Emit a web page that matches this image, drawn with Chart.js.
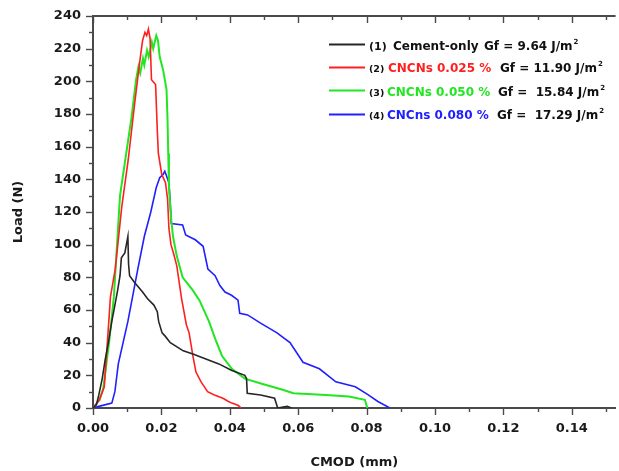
<!DOCTYPE html>
<html>
<head>
<meta charset="utf-8">
<script src="https://cdn.jsdelivr.net/npm/chart.js@4.4.0/dist/chart.umd.min.js"></script>
<style>
  html, body { margin: 0; padding: 0; background: #fff; }
  canvas { display: block; }
</style>
</head>
<body>
<canvas id="grafica" width="619" height="471"></canvas>
<script>
// curvas carga - CMOD: [CMOD (mm), carga (N)]
const cemento = [[0,0],[0.0010,2],[0.0017,8],[0.0027,18],[0.0036,30],[0.0045,40],[0.0055,53],[0.0064,63],[0.0072,72],[0.0079,81],[0.0083,92],[0.0093,95],[0.0102,105],[0.0104,88],[0.0107,81],[0.0121,77],[0.0145,71],[0.0159,67],[0.0178,63],[0.0188,59],[0.0192,53],[0.0202,46],[0.0211,44],[0.0226,40],[0.0264,35],[0.0292,33],[0.0330,30],[0.0368,27],[0.0406,23],[0.0444,20],[0.0449,18],[0.0451,9],[0.0490,8],[0.0531,6],[0.0540,0],[0.0568,1],[0.0580,0]];
const cncn025 = [[0,0],[0.0019,5],[0.0033,13],[0.0042,40],[0.0051,68],[0.0065,85],[0.0084,123],[0.0103,152],[0.0121,185],[0.0136,211],[0.0145,225],[0.0152,230],[0.0157,228],[0.0162,232],[0.0167,226],[0.0171,201],[0.0183,198],[0.0188,170],[0.0191,156],[0.0201,143],[0.0212,138],[0.0218,128],[0.0222,110],[0.0228,100],[0.0235,95],[0.0245,87],[0.0259,67],[0.0273,51],[0.0281,46],[0.0292,32],[0.0301,22],[0.0316,16],[0.0335,10],[0.0355,8],[0.0380,6],[0.0396,4],[0.0406,3],[0.0425,1.5],[0.0433,0]];
const cncn050 = [[0,0],[0.0019,5],[0.0030,12],[0.0047,40],[0.0061,68],[0.0079,130],[0.0093,150],[0.0112,177],[0.0126,201],[0.0133,209],[0.0138,205],[0.0146,214],[0.0150,210],[0.0158,219],[0.0163,215],[0.0172,224],[0.0176,220],[0.0185,228],[0.0190,225],[0.0195,215],[0.0205,207],[0.0215,195],[0.0218,176],[0.0220,156],[0.0222,136],[0.0228,117],[0.0234,105],[0.0245,93],[0.0262,80],[0.0273,77],[0.0292,72],[0.0311,66],[0.0339,53],[0.0358,42],[0.0377,32],[0.0406,24],[0.0444,18],[0.0491,15],[0.0557,11],[0.0586,9],[0.0681,8],[0.0748,7],[0.0795,5],[0.0802,0]];
const cncn080 = [[0,0],[0.0017,1],[0.0055,3],[0.0064,10],[0.0074,27],[0.0088,40],[0.0102,53],[0.0131,85],[0.0150,105],[0.0169,120],[0.0185,135],[0.0195,141],[0.0205,143],[0.0210,145],[0.0215,142],[0.0222,138],[0.0226,125],[0.0229,113],[0.0262,112],[0.0271,106],[0.0299,103],[0.0322,99],[0.0336,85],[0.0357,81],[0.0371,75],[0.0386,71],[0.0405,69],[0.0424,66],[0.0429,58],[0.0452,57],[0.0490,52],[0.0538,46],[0.0576,40],[0.0614,28],[0.0662,24],[0.0710,16],[0.0767,13],[0.0805,8],[0.0833,4],[0.0868,0]];

const numeros = ['(1)', '(2)', '(3)', '(4)'];
const muestras = ['Cement-only', 'CNCNs 0.025 %', 'CNCNs 0.050 %', 'CNCns 0.080 %'];
const energias = ['9.64', '11.90', '15.84', '17.29'];
const colores = ['#262626', '#ff1f1f', '#22e622', '#2020ff'];

const xTicks = [0, 0.01, 0.02, 0.03, 0.04, 0.05, 0.06, 0.07, 0.08, 0.09, 0.10, 0.11, 0.12, 0.13, 0.14, 0.15];
const yTicks = [0, 10, 20, 30, 40, 50, 60, 70, 80, 90, 100, 110, 120, 130, 140, 150, 160, 170, 180, 190, 200, 210, 220, 230, 240];

const fuente = 'DejaVu Sans';
const gris = '#4a4a4a';

function aPuntos(serie) {
  return serie.map(p => ({ x: p[0], y: p[1] }));
}

function esMayor(v, paso) {
  return Math.abs(Math.round(v / paso) * paso - v) < 1e-9;
}

// marcas de los ejes: hacia afuera abajo e izquierda, hacia adentro arriba
const marcasEjes = {
  id: 'marcasEjes',
  afterDraw(chart) {
    const { ctx, chartArea } = chart;
    const sx = chart.scales.x;
    const sy = chart.scales.y;
    ctx.save();
    ctx.strokeStyle = gris;
    ctx.lineWidth = 2;
    ctx.beginPath();
    ctx.moveTo(chartArea.left - 1, chartArea.top);
    ctx.lineTo(chartArea.right, chartArea.top);
    ctx.stroke();
    ctx.lineWidth = 1.4;
    xTicks.forEach(v => {
      const px = Math.round(sx.getPixelForValue(v)) + 0.5;
      const largo = esMayor(v, 0.02) ? 7 : 4;
      ctx.beginPath();
      ctx.moveTo(px, chartArea.bottom);
      ctx.lineTo(px, chartArea.bottom + largo);
      ctx.moveTo(px, chartArea.top);
      ctx.lineTo(px, chartArea.top + largo);
      ctx.stroke();
    });
    yTicks.forEach(v => {
      const py = Math.round(sy.getPixelForValue(v)) + 0.5;
      const largo = esMayor(v, 20) ? 7 : 4;
      ctx.beginPath();
      ctx.moveTo(chartArea.left, py);
      ctx.lineTo(chartArea.left - largo, py);
      ctx.stroke();
    });
    ctx.restore();
  }
};

// leyenda con partes de colores y superindice
const leyenda = {
  id: 'leyenda',
  afterDraw(chart) {
    const { ctx } = chart;
    const filas = [45, 67.5, 91, 114.5];
    const xMuestra = [393, 388, 387, 387];
    const xGf = [484, 500, 498, 497];
    ctx.save();
    filas.forEach((yc, i) => {
      ctx.strokeStyle = colores[i];
      ctx.lineWidth = 2;
      ctx.beginPath();
      ctx.moveTo(329, Math.round(yc) - 0.5);
      ctx.lineTo(365, Math.round(yc) - 0.5);
      ctx.stroke();

      const base = yc + 4.5;
      ctx.textBaseline = 'alphabetic';
      ctx.textAlign = 'left';
      ctx.fillStyle = '#111';
      ctx.font = `bold ${i === 0 ? 11 : 9.5}px "${fuente}"`;
      ctx.fillText(numeros[i], 369, base);

      ctx.font = `bold 12px "${fuente}"`;
      ctx.fillStyle = i === 0 ? '#111' : colores[i];
      ctx.fillText(muestras[i], xMuestra[i], base);

      ctx.fillStyle = '#111';
      const esp = ctx.measureText(' ').width;
      let x = xGf[i];
      ctx.fillText('Gf =', x, base);
      x += ctx.measureText('Gf =').width + (i >= 2 ? 2 * esp : esp);
      ctx.fillText(energias[i], x, base);
      x += ctx.measureText(energias[i]).width + esp;
      ctx.fillText('J/m', x, base);
      x += ctx.measureText('J/m').width + 1;
      ctx.font = `bold 7px "${fuente}"`;
      ctx.fillText('2', x, base - 6);
    });
    ctx.restore();
  }
};

const ctx = document.getElementById('grafica').getContext('2d');
const grafica = new Chart(ctx, {
  type: 'line',
  data: {
    datasets: [cemento, cncn025, cncn050, cncn080].map((serie, i) => ({
      label: muestras[i],
      data: aPuntos(serie),
      borderColor: colores[i],
      borderWidth: i === 2 ? 2 : 1.6,
      pointRadius: 0,
      fill: false,
      tension: 0
    }))
  },
  options: {
    responsive: false,
    animation: false,
    devicePixelRatio: 1,
    layout: { padding: { top: 16, right: 0, left: 0, bottom: 0 } },
    plugins: {
      legend: { display: false },
      tooltip: { enabled: false }
    },
    scales: {
      x: {
        type: 'linear',
        min: 0,
        max: 0.1528,
        afterBuildTicks: scale => { scale.ticks = xTicks.map(v => ({ value: v })); },
        afterFit: scale => { scale.height = 63; },
        grid: { display: true, drawOnChartArea: false, drawTicks: false },
        border: { display: true, color: gris, width: 2 },
        ticks: {
          autoSkip: false,
          maxRotation: 0,
          padding: 13,
          color: '#1a1a1a',
          font: { family: fuente, size: 13, weight: 'bold' },
          callback: v => esMayor(v, 0.02) && v < 0.145 ? v.toFixed(2) : ''
        },
        title: {
          display: true,
          text: 'CMOD (mm)',
          color: '#1a1a1a',
          font: { family: fuente, size: 13, weight: 'bold' },
          padding: { top: 0, bottom: 1 }
        }
      },
      y: {
        min: 0,
        max: 240,
        afterBuildTicks: scale => { scale.ticks = yTicks.map(v => ({ value: v })); },
        afterFit: scale => {
          scale.width = 93;
          scale.paddingTop = 0;
          scale.paddingBottom = 0;
        },
        grid: { display: true, drawOnChartArea: false, drawTicks: false },
        border: { display: true, color: gris, width: 2 },
        ticks: {
          autoSkip: false,
          padding: 12,
          color: '#1a1a1a',
          font: { family: fuente, size: 13, weight: 'bold' },
          callback: v => esMayor(v, 20) ? v : ''
        },
        title: {
          display: true,
          text: 'Load (N)',
          color: '#1a1a1a',
          font: { family: fuente, size: 13, weight: 'bold' },
          padding: { top: 11, bottom: 0 }
        }
      }
    }
  },
  plugins: [marcasEjes, leyenda]
});
</script>
</body>
</html>
